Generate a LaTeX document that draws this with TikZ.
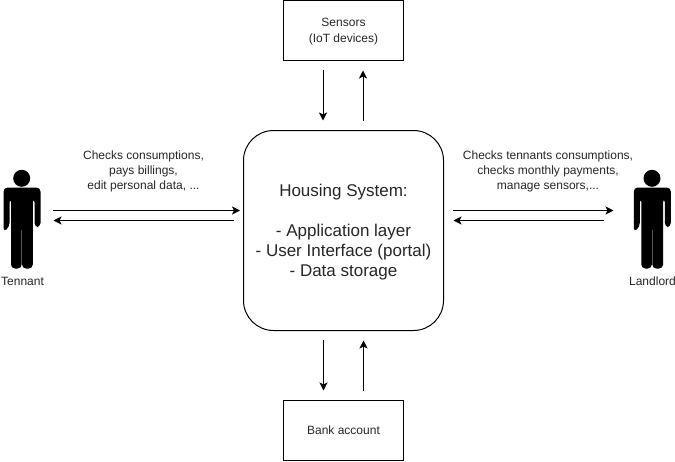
\documentclass[tikz,border=0pt]{standalone}
\usepackage{fontspec}
\setmainfont{Liberation Sans}
\usetikzlibrary{arrows.meta}
\tikzset{
  boxnode/.style={draw=black,line width=1pt,minimum width=120pt,minimum height=60pt,inner sep=0pt,align=center,font=\fontsize{12}{15.5}\selectfont,text=black!85},
  mainnode/.style={draw=black,line width=1pt,rounded corners=30pt,minimum width=200pt,minimum height=200pt,inner sep=0pt},
  maintext/.style={inner sep=0pt,align=center,font=\fontsize{17}{20}\selectfont,text=black!85},
  lbl/.style={inner sep=0pt,align=center,font=\fontsize{12}{15}\selectfont,text=black!85},
  flow/.style={draw=black,line width=1pt,-{Stealth[length=8pt,width=8pt,inset=2pt]}},
  personpart/.style={fill=black,draw=none}
}
\newcommand{\personshape}[1]{%
  \begin{scope}[shift={(#1,0)}]
    \fill[personpart] (21.7,178.3) circle (8.5);
    \fill[personpart,rounded corners=4pt] (3.5,232) -- (3.5,187.5) -- (40.5,187.5) -- (40.5,227) -- (34.5,227) -- (34.5,198) -- (32.8,198) -- (32.8,268.5) -- (22,268.5) -- (22,226) -- (21.6,226) -- (21.6,268.5) -- (11,268.5) -- (11,198) -- (9.5,198) -- (9.5,227) -- cycle;
  \end{scope}}
\begin{document}
\begin{tikzpicture}[x=1pt,y=-1pt]
\useasboundingbox (0,0) rectangle (675,461);
\personshape{0}
\personshape{630.3}
\node[mainnode] (sys) at (343.5,230.5) {};
\node[maintext] (systext) at (343.5,232) {Housing System:\\[\baselineskip]- Application layer\\- User Interface (portal)\\- Data storage};
\node[boxnode] (sensors) at (343.5,30.5) {};
\node[boxnode,draw=none] (sensorstext) at (343.5,31.5) {Sensors\\(IoT devices)};
\node[boxnode] (bank) at (343.5,430.5) {Bank account};
\node[lbl] (tlabel) at (143.5,171.5) {Checks consumptions,\\pays billings,\\edit personal data, ...};
\node[lbl] (llabel) at (548,171.5) {Checks tennants consumptions,\\checks monthly payments,\\manage sensors,...};
\node[lbl] (tennant) at (22.5,281.5) {Tennant};
\node[lbl] (landlord) at (652.5,281.5) {Landlord};
\coordinate (a1) at (53,210.5);   \coordinate (a2) at (240,210.5);
\coordinate (b1) at (233.5,220.5);\coordinate (b2) at (53.5,220.5);
\coordinate (c1) at (453,210.5);  \coordinate (c2) at (613.5,210.5);
\coordinate (d1) at (603.5,220.5);\coordinate (d2) at (453.5,220.5);
\coordinate (e1) at (323,70);     \coordinate (e2) at (323,120.5);
\coordinate (f1) at (363,121);    \coordinate (f2) at (363,70.5);
\coordinate (g1) at (323.5,340);  \coordinate (g2) at (323.5,390.5);
\coordinate (h1) at (363.5,390.5);\coordinate (h2) at (363.5,340.5);
\draw[flow] (a1) -- (a2);
\draw[flow] (b1) -- (b2);
\draw[flow] (c1) -- (c2);
\draw[flow] (d1) -- (d2);
\draw[flow] (e1) -- (e2);
\draw[flow] (f1) -- (f2);
\draw[flow] (g1) -- (g2);
\draw[flow] (h1) -- (h2);
\end{tikzpicture}
\end{document}
